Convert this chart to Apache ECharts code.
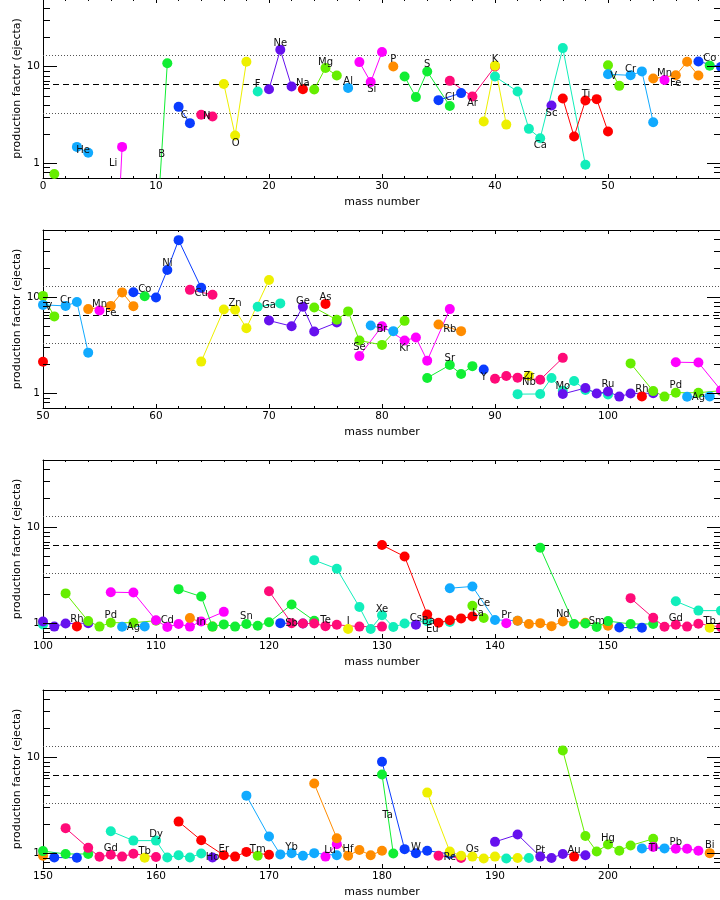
<!DOCTYPE html>
<html><head><meta charset="utf-8">
<script src="https://cdn.jsdelivr.net/npm/echarts@6/dist/echarts.min.js"></script>
<style>html,body{margin:0;padding:0;background:#fff}#c{width:720px;height:900px}</style>
</head><body><div id="c"></div>
<script>
// ---- data ----
const elementSymbols = ['H','He','Li','Be','B','C','N','O','F','Ne','Na','Mg','Al','Si','P','S','Cl','Ar','K','Ca','Sc','Ti','V','Cr','Mn','Fe','Co','Ni','Cu','Zn','Ga','Ge','As','Se','Br','Kr','Rb','Sr','Y','Zr','Nb','Mo','Ru','Rh','Pd','Ag','Cd','In','Sn','Sb','Te','I','Xe','Cs','Ba','La','Ce','Pr','Nd','Sm','Eu','Gd','Tb','Dy','Ho','Er','Tm','Yb','Lu','Hf','Ta','W','Re','Os','Ir','Pt','Au','Hg','Tl','Pb','Bi'];
const elementMasses = [
 [1],[3,4],[6,7],[],[10,11],[12,13],[14,15],[16,17,18],[19],[20,21,22],[23],[24,25,26],[27],[28,29,30],[31],[32,33,34,36],[35,37],[36,38,40],[39,40,41],[40,42,43,44,46,48],[45],[46,47,48,49,50],[50,51],[50,52,53,54],[55],[54,56,57,58],[59],[58,60,61,62,64],[63,65],[64,66,67,68,70],[69,71],[70,72,73,74,76],[75],[74,76,77,78,80,82],[79,81],[78,80,82,83,84,86],[85,87],[84,86,87,88],[89],[90,91,92,94,96],[93],[92,94,95,96,97,98,100],[96,98,99,100,101,102,104],[103],[102,104,105,106,108,110],[107,109],[106,108,110,111,112,113,114,116],[113,115],[112,114,115,116,117,118,119,120,122,124],[121,123],[120,122,123,124,125,126,128,130],[127],[124,126,128,129,130,131,132,134,136],[133],[130,132,134,135,136,137,138],[138,139],[136,138,140,142],[141],[142,143,144,145,146,148,150],[144,147,148,149,150,152,154],[151,153],[152,154,155,156,157,158,160],[159],[156,158,160,161,162,163,164],[165],[162,164,166,167,168,170],[169],[168,170,171,172,173,174,176],[175,176],[174,176,177,178,179,180],[180,181],[180,182,183,184,186],[185,187],[184,186,187,188,189,190,192],[191,193],[190,192,194,195,196,198],[197],[196,198,199,200,201,202,204],[203,205],[204,206,207,208],[209]
];
const elementPF = [
 [0.77],[1.47,1.28],[0.006,1.47],[],[0.147,10.8],[3.82,2.59],[3.16,3.03],[6.6,1.93,11.2],[5.5],[5.82,14.9,6.2],[5.82],[5.77,9.66,8.08],[6.0],[11.1,6.9,14.1],[10.0],[7.86,4.82,8.87,3.9],[4.48,5.3],[7.1,4.88,10.0],[2.69,10.2,2.5],[7.86,5.5,2.26,1.81,15.5,0.96],[3.94],[4.66,1.88,4.44,4.59,2.12],[10.3,6.3],[8.3,8.1,8.9,2.64],[7.25],[7.5,8.1,11.2,8.05],[10.2],[11.25,9.9,19.2,39.2,12.5],[11.9,10.6],[2.13,7.43,7.37,4.75,15.1],[7.93,8.6],[5.7,4.98,7.93,4.38,5.44],[8.5],[7.8,5.8,7.1,3.53,3.18,5.66],[5.06,4.42],[2.43,4.98,3.53,3.79,2.18,7.5],[5.18,4.42],[1.44,1.96,1.58,1.91],[1.76],[1.41,1.51,1.45,1.38,2.33],[1.52],[0.976,0.98,1.44,1.06,1.34,1.08,0.97],[0.98,1.13,0.99,1.04,0.92,0.99,1.0],[0.925],[2.04,1.05,0.92,1.01,1.01,1.06],[0.915,0.925],[2.1,2.08,1.07,0.91,0.98,0.92,1.04,1.31],[1.13,0.92],[2.26,1.89,0.92,0.97,0.92,0.98,0.94,1.02,1.56,1.06],[1.0,0.99],[2.15,1.0,0.99,0.99,0.93,0.96,0.92,0.92],[0.87],[4.53,3.68,1.47,0.87,1.21,0.91,0.99,1.05,1.03],[0.96],[6.5,4.94,1.23,1.01,1.07,1.12,1.17],[1.52,1.13],[2.31,2.41,1.08,1.06],[1.0],[1.06,0.98,1.0,0.93,1.04,1.01,0.94],[6.1,0.98,0.99,0.91,1.05,0.98,0.98],[0.9,0.895],[1.82,1.135,0.915,0.96,0.92,0.985,0.91],[0.895],[1.69,1.35,1.35,0.9,0.95,0.9,0.99],[0.9],[2.13,1.36,0.95,0.92,1.03,0.96],[0.94],[3.97,1.49,0.97,1.0,0.94,1.0,0.95],[0.92,1.24],[5.3,1.43,0.94,1.08,0.95,1.06],[6.6,0.99],[8.95,1.1,1.0,1.06,0.98],[0.94,0.89],[4.27,1.04,0.94,0.92,0.88,0.92,0.89],[0.88,0.89],[1.31,1.56,0.92,0.89,0.98,0.95],[0.92],[11.7,1.51,1.04,1.23,1.06,1.2,1.41],[1.12,1.12],[1.16,1.11,1.11,1.06],[1.0]
];
const labelText = ['He','Li','B','C','N','O','F','Ne','Na','Mg','Al','Si','P','S','Cl','Ar','K','Ca','Sc','Ti','V','Cr','Mn','Fe','Co','Ni','Cu','Zn','Ga','Ge','As','Se','Br','Kr','Rb','Sr','Y','Zr','Nb','Mo','Ru','Rh','Pd','Ag','Cd','In','Sn','Sb','Te','I','Xe','Cs','Ba','Eu','La','Ce','Pr','Nd','Sm','Gd','Tb','Dy','Ho','Er','Tm','Yb','Lu','Hf','Ta','W','Re','Os','Pt','Au','Hg','Tl','Pb','Bi'];
const labelMass = [3.55,6.2,10.5,12.5,14.5,17.05,19,21,23,25,27,29.1,31,34,36,38,40,44,45,48.05,50.5,52,55,56,59,61,64,67,70,73,75,78,80,82,86,86,89,93,93,96,100,103,106,108,111,114,118,122,125,127,130,133,134.1,134.45,138.5,139,141,146,149,156,159,160,165,166,169,172,175.4,177,180.5,183,186,188,194,197,200,204,206,209];
const labelPF = [1.34,1.0,1.22,3.1,3.03,1.61,6.6,17.4,6.7,11.1,7.0,5.8,11.7,10.4,4.77,4.1,11.9,1.51,3.29,5.17,7.9,9.3,8.45,6.75,12.0,22.7,10.8,8.5,8.2,9.1,10.0,3.0,4.56,2.9,4.64,2.28,1.47,1.5,1.28,1.18,1.23,1.1,1.2,0.9,1.06,1.01,1.17,1.0,1.08,1.04,1.4,1.11,1.04,0.86,1.27,1.59,1.2,1.22,1.04,1.13,1.05,1.57,0.91,1.1,1.1,1.16,1.06,1.1,2.5,1.16,0.9,1.1,1.07,1.08,1.43,1.13,1.29,1.19];
const panelXMin = [0,50,100,150];
const panelXMax = [60,110,160,210];
const refLineValues = [13.16, 6.58, 3.29];
const refLineDashed = [0, 1, 0];
const yMajorTicks = [1, 10];
const yMinorTicks = [0.8, 0.9, 2, 3, 4, 5, 6, 7, 8, 9, 20, 30, 40];
const palette = ['#66ee00','#11aaff','#ff00ff','#ff8c00','#11ee33','#0a3cff','#ff0a78','#eef000','#11eebb','#6611ee','#ff0000'];

// ---- layout ----
const gridTops = [-1, 230, 460, 690];
const gridH = [179, 178, 178, 178];
const FONT = 'DejaVu Sans';

const grids = [], xAxes = [], yAxes = [], series = [];
gridTops.forEach((t, i) => {
  grids.push({left: 43, top: t, width: 678, height: gridH[i], containLabel: false, outerBoundsMode: 'none'});
  const xmin = panelXMin[i], xmax = panelXMax[i];
  const xBase = {
    gridIndex: i, type: 'value', min: xmin, max: xmax, interval: 10,
    axisLine: {show: true, onZero: false, lineStyle: {color: '#000', width: 1}},
    axisTick: {show: true, inside: true, length: 4, lineStyle: {color: '#000'}},
    minorTick: {show: true, splitNumber: 5, length: 2, lineStyle: {color: '#000'}},
    splitLine: {show: false}, minorSplitLine: {show: false}
  };
  xAxes.push(Object.assign({}, xBase, {
    position: 'bottom',
    axisLabel: {show: true, margin: 3, fontFamily: FONT, fontSize: 10.5, color: '#000', showMaxLabel: false, showMinLabel: true},
    name: 'mass number', nameLocation: 'middle', nameGap: 19,
    nameTextStyle: {fontFamily: FONT, fontSize: 11, color: '#000'}
  }));
  xAxes.push(Object.assign({}, xBase, {position: 'top', axisLabel: {show: false}}));
  yAxes.push({
    gridIndex: i, type: 'log', logBase: 10, min: 0.7, max: 50, position: 'left',
    axisLine: {show: true, lineStyle: {color: '#000', width: 1}},
    axisTick: {show: false}, splitLine: {show: false}, minorTick: {show: false},
    axisLabel: {margin: 3, fontFamily: FONT, fontSize: 10.5, color: '#000',
      formatter: v => (Math.abs(v - 1) < 1e-6 || Math.abs(v - 10) < 1e-6) ? String(Math.round(v)) : ''},
    name: 'production factor (ejecta)', nameLocation: 'middle', nameGap: 20, nameRotate: 90,
    nameMoveOverlap: false,
    nameTextStyle: {fontFamily: FONT, fontSize: 11, color: '#000'}
  });

  // reference lines
  series.push({
    type: 'custom', xAxisIndex: 2 * i, yAxisIndex: i, silent: true, z: 1,
    data: refLineValues.map((v, k) => [xmin, v, refLineDashed[k]]),
    encode: {x: 0, y: 1},
    renderItem: (params, api) => {
      const cs = params.coordSys;
      const p = api.coord([api.value(0), api.value(1)]);
      const y = Math.round(p[1]) + 0.5;
      const dashed = api.value(2) === 1;
      return {type: 'line', shape: {x1: cs.x, y1: y, x2: cs.x + cs.width, y2: y},
        style: {stroke: dashed ? '#000' : '#555', lineWidth: 1, lineDash: dashed ? [6, 4] : [1, 2]}};
    }
  });

  // y ticks, left and right
  series.push({
    type: 'custom', xAxisIndex: 2 * i, yAxisIndex: i, silent: true, z: 3,
    data: yMajorTicks.map(v => [xmin, v, 1]).concat(yMinorTicks.map(v => [xmin, v, 0])),
    encode: {x: 0, y: 1},
    renderItem: (params, api) => {
      const cs = params.coordSys;
      const p = api.coord([api.value(0), api.value(1)]);
      const y = Math.round(p[1]) + 0.5;
      const len = api.value(2) === 1 ? 14 : 7;
      return {type: 'group', children: [
        {type: 'line', shape: {x1: cs.x, y1: y, x2: cs.x + len, y2: y}, style: {stroke: '#000', lineWidth: 1}},
        {type: 'line', shape: {x1: cs.x + cs.width, y1: y, x2: cs.x + cs.width - len, y2: y}, style: {stroke: '#000', lineWidth: 1}}
      ]};
    }
  });

  // element isotopes
  elementSymbols.forEach((sym, e) => {
    const ms = elementMasses[e];
    if (!ms.length) return;
    if (Math.min(...ms) > xmax || Math.max(...ms) < xmin) return;
    const col = palette[e % palette.length];
    series.push({
      type: 'line', name: sym, xAxisIndex: 2 * i, yAxisIndex: i, z: 2,
      data: ms.map((m, j) => [m, elementPF[e][j]]),
      symbol: 'circle', symbolSize: 10, showSymbol: true, showAllSymbol: true,
      itemStyle: {color: col}, lineStyle: {color: col, width: 1},
      clip: true, silent: true, animation: false, emphasis: {disabled: true}
    });
  });

  // element labels
  const labData = [];
  labelText.forEach((t, k) => {
    if (labelMass[k] > xmin && labelMass[k] < xmax - 0.5) labData.push([labelMass[k], labelPF[k], k]);
  });
  series.push({
    type: 'custom', xAxisIndex: 2 * i, yAxisIndex: i, silent: true, z: 5,
    data: labData, encode: {x: 0, y: 1},
    renderItem: (params, api) => {
      const p = api.coord([api.value(0), api.value(1)]);
      return {type: 'text', x: p[0], y: p[1],
        style: {text: labelText[api.value(2)], fill: '#111', font: '10px "DejaVu Sans"', align: 'center', verticalAlign: 'middle'}};
    }
  });
});

const chart = echarts.init(document.getElementById('c'), null, {renderer: 'canvas'});
chart.setOption({
  animation: false, backgroundColor: '#fff',
  grid: grids, xAxis: xAxes, yAxis: yAxes, series: series
});
</script></body></html>
